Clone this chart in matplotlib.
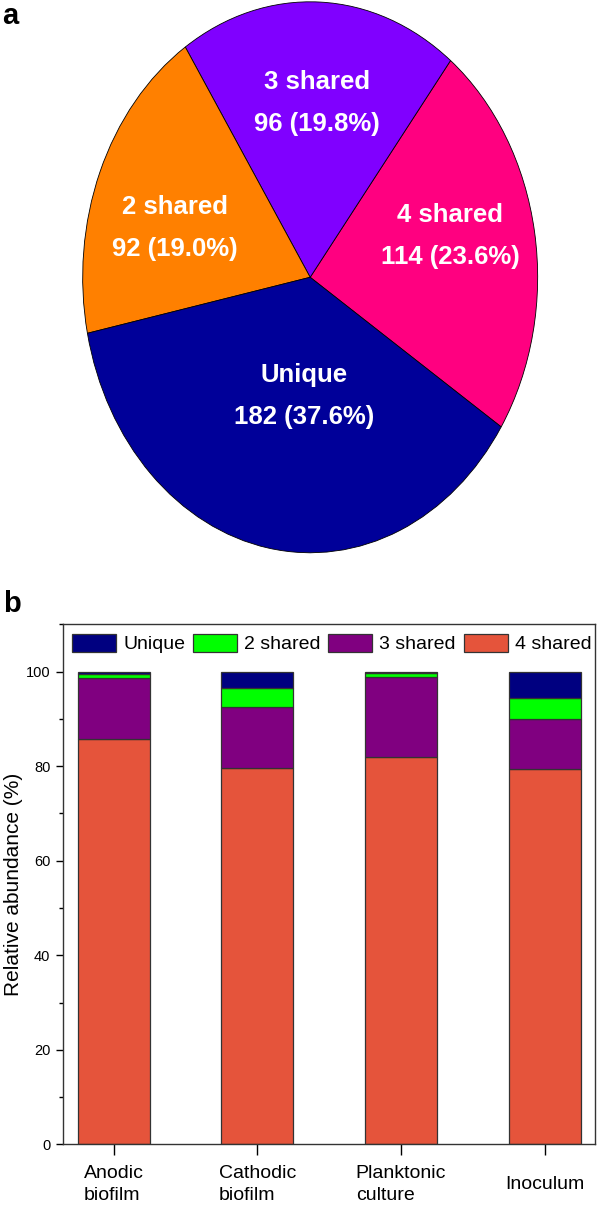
import numpy as np
import matplotlib.pyplot as plt
from matplotlib.ticker import MultipleLocator

# panel a: pie of shared OTUs
pie_names = ['4 shared', '3 shared', '2 shared', 'Unique']
pie_counts = [114, 96, 92, 182]
pie_colors = ['#FF0080', '#8000FF', '#FF8000', '#000099']

# panel b: stacked relative abundance (%)
samples = ['Anodic\nbiofilm', 'Cathodic\nbiofilm', 'Planktonic\nculture', 'Inoculum']
shared4 = [85.7, 79.6, 81.9, 79.3]
shared3 = [13.0, 13.0, 17.0, 10.6]
shared2 = [0.7, 3.9, 0.7, 4.5]
unique = [0.6, 3.5, 0.4, 5.6]

plt.rcParams['font.family'] = ['Liberation Sans', 'DejaVu Sans']

fig = plt.figure(figsize=(6, 12.09), dpi=100)

# ---- a ----
ax1 = fig.add_axes([0.1378, 0.5428, 0.7583, 0.4557])
ax1.pie(pie_counts, colors=pie_colors, startangle=-32.9, radius=1,
        wedgeprops=dict(edgecolor='black', linewidth=0.6))
ax1.set_aspect('auto')
ax1.set_xlim(-1, 1)
ax1.set_ylim(-1, 1)

total = sum(pie_counts)
label_pos = [(0.615, 0.151), (0.031, 0.634), (-0.594, 0.178), (-0.028, -0.432)]
for name, n, (u, v) in zip(pie_names, pie_counts, label_pos):
    ax1.text(u, v + 0.076, name, ha='center', va='center', color='white',
             fontsize=18.5, fontweight='bold')
    ax1.text(u, v - 0.076, '%d (%.1f%%)' % (n, 100 * n / total), ha='center',
             va='center', color='white', fontsize=18.5, fontweight='bold')

# ---- b ----
ax2 = fig.add_axes([0.1055, 0.0535, 0.8862, 0.4301])
x = np.arange(len(samples))
bottom = np.zeros(len(samples))
stack = [(shared4, '4 shared', '#E5543B'), (shared3, '3 shared', '#800080'),
         (shared2, '2 shared', '#00FF00'), (unique, 'Unique', '#000080')]
handles = []
for vals, name, color in stack:
    b = ax2.bar(x, vals, 0.5, bottom=bottom, color=color, edgecolor='#333333',
                linewidth=0.9, label=name)
    handles.append(b)
    bottom += np.array(vals)

ax2.legend(handles[::-1], [s[1] for s in stack][::-1], loc='center',
           bbox_to_anchor=(0.505, 0.963), ncol=4, frameon=False, fontsize=14,
           handlelength=2.27, handleheight=1.08, handletextpad=0.36,
           columnspacing=0.39, borderpad=0)

ax2.set_xlim(-0.35, 3.35)
ax2.set_ylim(0, 110)
ax2.yaxis.set_major_locator(MultipleLocator(20))
ax2.yaxis.set_minor_locator(MultipleLocator(10))
ax2.set_yticks([0, 20, 40, 60, 80, 100])
ax2.tick_params(axis='y', which='major', length=5.3, width=1, labelsize=10.5, pad=4)
ax2.tick_params(axis='y', which='minor', length=3, width=1)
ax2.set_xticks(x, samples, va='center', multialignment='left', linespacing=1.4)
ax2.tick_params(axis='x', length=7.7, width=1, labelsize=14, pad=21)
for sp in ax2.spines.values():
    sp.set_linewidth(1)
    sp.set_color('#333333')

ax2.set_ylabel('Relative abundance (%)', fontsize=15)
ax2.yaxis.set_label_coords(-0.0935, 0.5)
ax2.yaxis.label.set_va('center')

fig.text(2 / 600, 1 - 24 / 1209, 'a', fontsize=21, fontweight='bold',
         ha='left', va='baseline')
fig.text(3 / 600, 1 - 612 / 1209, 'b', fontsize=21, fontweight='bold',
         ha='left', va='baseline')

fig.savefig('out.png', dpi=100)
